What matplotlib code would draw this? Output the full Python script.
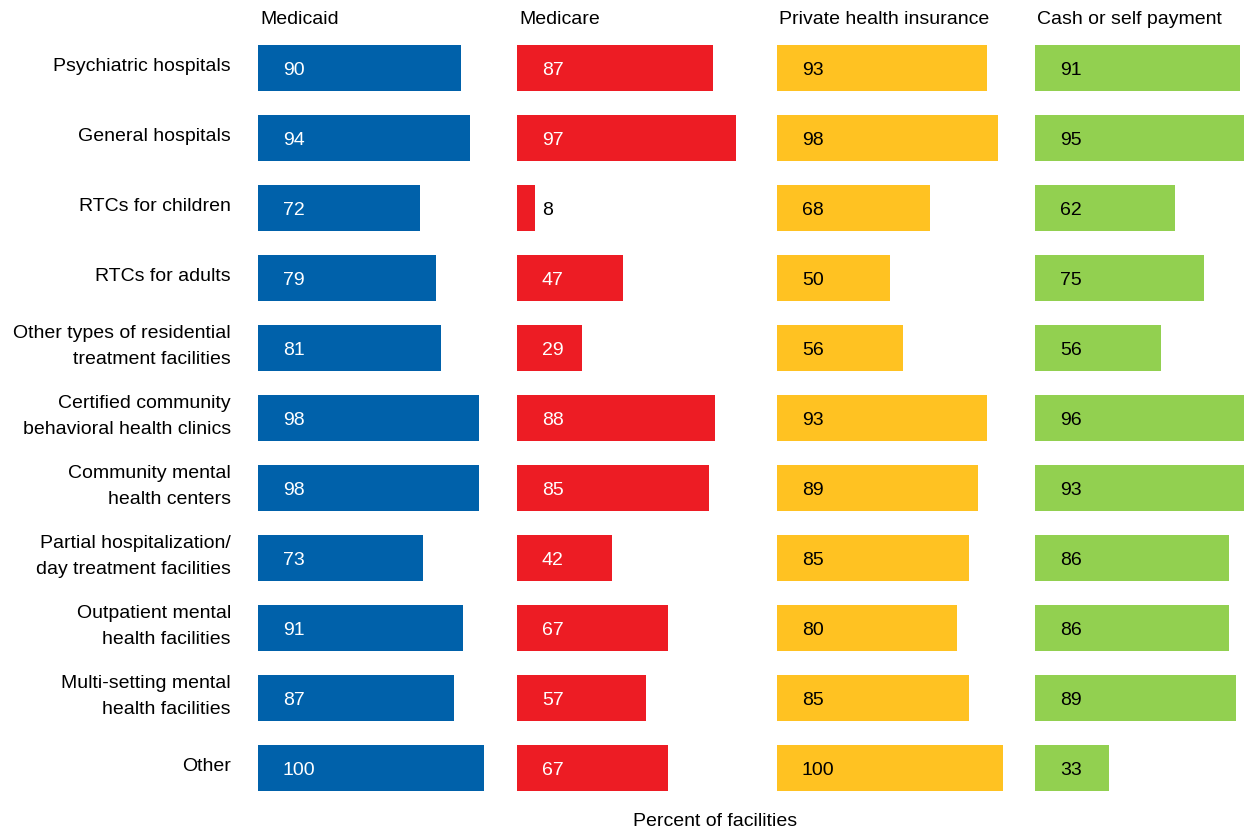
import matplotlib.pyplot as plt
import numpy as np

plt.rcParams["font.family"] = ["Liberation Sans", "DejaVu Sans"]

categories = [
    "Psychiatric hospitals",
    "General hospitals",
    "RTCs for children",
    "RTCs for adults",
    "Other types of residential\ntreatment facilities",
    "Certified community\nbehavioral health clinics",
    "Community mental\nhealth centers",
    "Partial hospitalization/\nday treatment facilities",
    "Outpatient mental\nhealth facilities",
    "Multi-setting mental\nhealth facilities",
    "Other",
]

panels = ["Medicaid", "Medicare", "Private health insurance", "Cash or self payment"]

medicaid = [90, 94, 72, 79, 81, 98, 98, 73, 91, 87, 100]
medicare = [87, 97, 8, 47, 29, 88, 85, 42, 67, 57, 67]
private = [93, 98, 68, 50, 56, 93, 89, 85, 80, 85, 100]
cash = [91, 95, 62, 75, 56, 96, 93, 86, 86, 89, 33]

series = [medicaid, medicare, private, cash]
colors = ["#0061AA", "#ED1C24", "#FFC222", "#92D050"]
text_colors = ["white", "white", "black", "black"]

W, H = 1244, 832
fig = plt.figure(figsize=(W / 100, H / 100), dpi=100)

# panel geometry in pixels
lefts = [258, 517, 777, 1035]
panel_w = 259
px_per_unit = 2.255
top, bottom = 33, 803  # row band edges
n = len(categories)

for k, (vals, name) in enumerate(zip(series, panels)):
    ax = fig.add_axes([lefts[k] / W, 1 - bottom / H, panel_w / W, (bottom - top) / H])
    ax.set_xlim(0, panel_w / px_per_unit)
    ax.set_ylim(n - 0.5, -0.5)
    y = np.arange(n)
    ax.barh(y, vals, height=0.66, color=colors[k], clip_on=False)
    for yi, v in zip(y, vals):
        if v < 15:
            ax.text(v + 3, yi + 0.04, str(v), va="center", ha="left", fontsize=14, color="black")
        else:
            ax.text(11, yi + 0.04, str(v), va="center", ha="left", fontsize=14, color=text_colors[k])
    ax.axis("off")
    fig.text((lefts[k] + 2) / W, 1 - 20 / H, name, ha="left", va="center", fontsize=14)

    if k == 0:
        for yi, cat in enumerate(categories):
            ax.text(-12, yi - 0.02, cat, ha="right", va="center", fontsize=14,
                    linespacing=1.65, clip_on=False)

fig.text(715 / W, 1 - 822 / H, "Percent of facilities", ha="center", va="center", fontsize=14)

fig.savefig("out.png", dpi=100)
